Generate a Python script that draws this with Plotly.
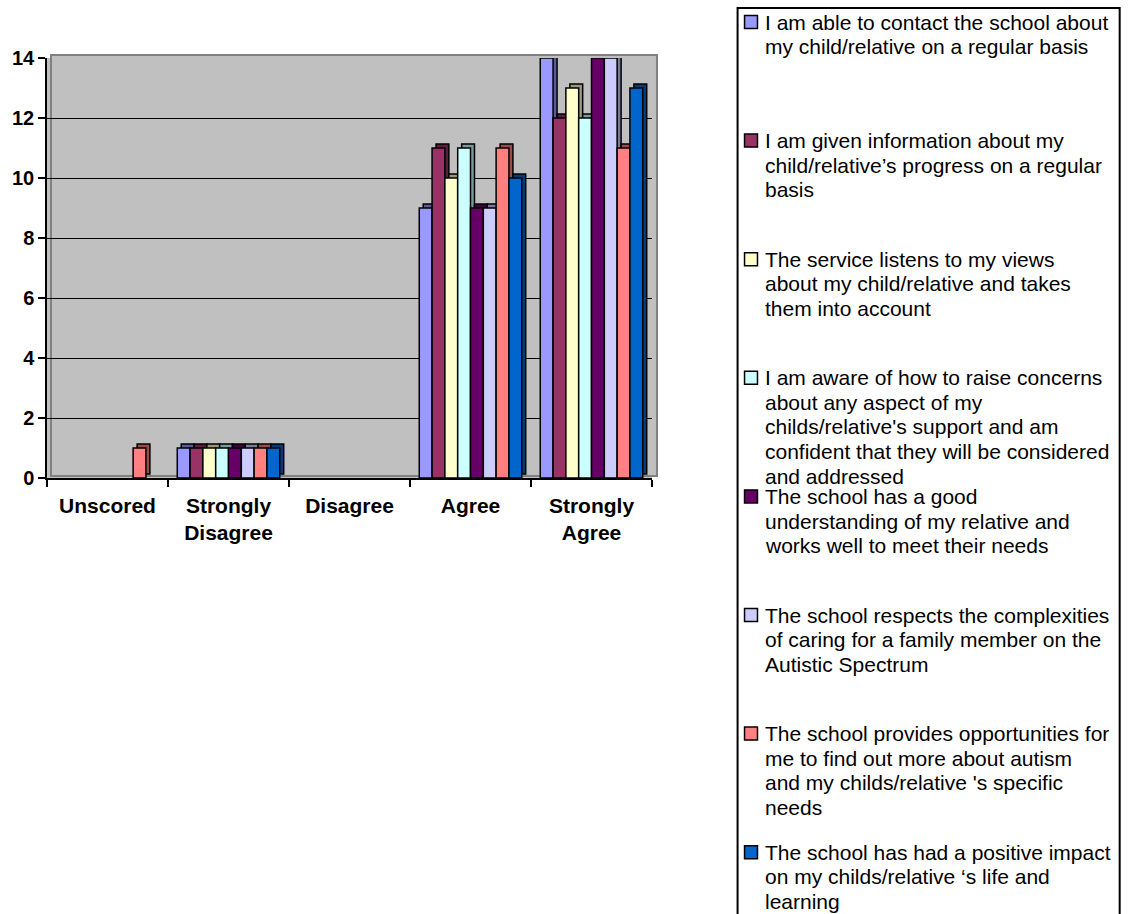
import plotly.graph_objects as go

# ---------------- data ----------------
categories = ["Unscored", "Strongly<br>Disagree", "Disagree", "Agree", "Strongly<br>Agree"]

contact_school = [0, 1, 0, 9, 14]
given_information = [0, 1, 0, 11, 12]
service_listens = [0, 1, 0, 10, 13]
aware_concerns = [0, 1, 0, 11, 12]
good_understanding = [0, 1, 0, 9, 14]
respects_complexities = [0, 1, 0, 9, 14]
provides_opportunities = [1, 1, 0, 11, 11]
positive_impact = [0, 1, 0, 10, 13]

series_values = [contact_school, given_information, service_listens, aware_concerns,
                 good_understanding, respects_complexities, provides_opportunities,
                 positive_impact]

legend_lines = [
    ["I am able to contact the school about", "my child/relative on a regular basis"],
    ["I am given information about my", "child/relative\u2019s progress on a regular", "basis"],
    ["The service listens to my views", "about my child/relative and takes", "them into account"],
    ["I am aware of how to raise concerns", "about any aspect of my",
     "childs/relative's support and am", "confident that they will be considered",
     "and addressed"],
    ["The school has a good", "understanding of my relative and",
     "works well to meet their needs"],
    ["The school respects the complexities", "of caring for a family member on the",
     "Autistic Spectrum"],
    ["The school provides opportunities for", "me to find out more about autism",
     "and my childs/relative 's specific", "needs"],
    ["The school has had a positive impact", "on my childs/relative \u2018s life and",
     "learning"],
]
series_names = [" ".join(l) for l in legend_lines]

colors = ["#9999FF", "#993366", "#FFFFCC", "#CCFFFF", "#660066", "#CCCCFF", "#FF8080", "#0066CC"]

y_ticks = [0, 2, 4, 6, 8, 10, 12, 14]

# ---------------- layout geometry ----------------
W, H = 1129, 914
PL, PR, PT, PB = 44, 652, 58, 478
PW, PH = PR - PL, PB - PT
FONT = "Liberation Sans, Arial, sans-serif"


def px_x(px):
    return (px - PL) / PW


def px_y(py):
    return (PB - py) / PH


def darker(hexc, f=0.6):
    hexc = hexc.lstrip("#")
    r, g, b = (int(hexc[i:i + 2], 16) for i in (0, 2, 4))
    return "rgb(%d,%d,%d)" % (r * f, g * f, b * f)


n = len(series_values)
group = 0.847
w = group / n
dx = 4 / (PW / len(categories))
dy = 4 / (PH / 14)

fig = go.Figure()

# 3D depth faces (behind)
for i, vals in enumerate(series_values):
    yv = [v if v else None for v in vals]
    fig.add_trace(go.Bar(
        x=categories, y=yv, base=dy, offset=-group / 2 + i * w + dx, width=w,
        marker=dict(color=darker(colors[i]), line=dict(color="black", width=1.5)),
        showlegend=False, hoverinfo="skip", cliponaxis=False))

# front faces
for i, vals in enumerate(series_values):
    yv = [v if v else None for v in vals]
    fig.add_trace(go.Bar(
        x=categories, y=yv, offset=-group / 2 + i * w, width=w, name=series_names[i],
        marker=dict(color=colors[i], line=dict(color="black", width=1.5)),
        showlegend=False, cliponaxis=False))

shapes = []
# back wall
shapes.append(dict(type="rect", xref="paper", yref="paper",
                   x0=px_x(48), x1=px_x(657), y0=px_y(476), y1=px_y(55),
                   fillcolor="#C0C0C0", line=dict(color="#808080", width=2), layer="below"))

# legend box
shapes.append(dict(type="rect", xref="paper", yref="paper",
                   x0=px_x(738), x1=px_x(1122), y0=px_y(920), y1=px_y(8),
                   fillcolor="rgba(0,0,0,0)", line=dict(color="black", width=2)))

annotations = []
first_y = 22
slot = 118.6
line_h = 24.6
for i, lines in enumerate(legend_lines):
    yc = first_y + i * slot
    shapes.append(dict(type="rect", xref="paper", yref="paper",
                       x0=px_x(745), x1=px_x(758), y0=px_y(yc + 6.5), y1=px_y(yc - 6.5),
                       fillcolor=colors[i], line=dict(color="black", width=1.5)))
    for j, t in enumerate(lines):
        annotations.append(dict(
            xref="paper", yref="paper", x=px_x(764), y=px_y(yc + j * line_h),
            xanchor="left", yanchor="middle", text=t, showarrow=False,
            font=dict(family=FONT, size=21, color="black")))

fig.update_layout(
    width=W, height=H,
    margin=dict(l=PL, r=W - PR, t=PT, b=H - PB, pad=0),
    paper_bgcolor="white", plot_bgcolor="#C0C0C0",
    barmode="overlay", showlegend=False, hovermode=False,
    shapes=shapes, annotations=annotations,
    font=dict(family=FONT, color="black"),
)
fig.update_xaxes(
    type="category", range=[-0.5, 4.5], tickson="boundaries",
    ticks="outside", ticklen=7, tickwidth=1.5, tickcolor="black",
    showline=True, linecolor="black", linewidth=1.5, showgrid=False,
    ticklabelstandoff=8,
    tickfont=dict(family=FONT, size=21, color="black", weight="bold"),
)
fig.update_yaxes(
    range=[0, 14], tickvals=y_ticks, ticks="outside", ticklen=7, tickwidth=1.5,
    tickcolor="black", showline=True, linecolor="black", linewidth=1.5,
    showgrid=True, gridcolor="black", gridwidth=1.2, zeroline=False,
    tickfont=dict(family=FONT, size=20, color="black", weight="bold"),
)

fig.write_html("out.html")
